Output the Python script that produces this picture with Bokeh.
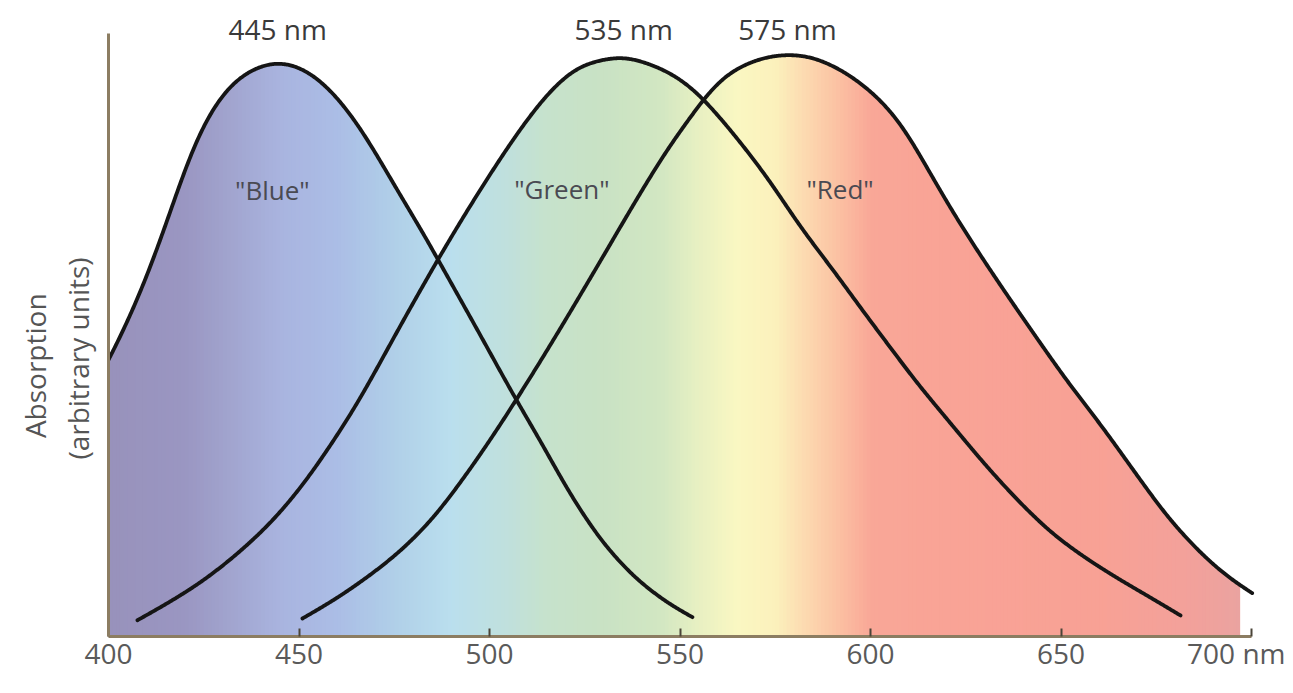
import numpy as np
from bokeh.plotting import figure
from bokeh.models import Range1d, FixedTicker, LinearAxis
from bokeh.core.properties import value
from bokeh.embed import file_html
from bokeh.resources import INLINE

# ---- data (wavelength in nm, absorption in arbitrary units) ----
blue_nm = [400.0, 401.8, 407.6, 411.0, 414.4, 417.1, 420.2, 423.4, 428.6, 432.0, 438.1, 444.4,
           451.2, 457.0, 461.7, 466.9, 472.2, 477.2, 482.7, 486.6, 496.9, 507.3, 513.4, 520.5,
           529.1, 537.8, 546.7, 553.3]
blue_abs = [47.5, 49.7, 57.8, 63.5, 69.4, 75.0, 80.7, 86.6, 92.3, 95.2, 97.9, 99.1,
            97.9, 95.0, 91.6, 86.8, 80.9, 75.2, 69.4, 64.7, 52.7, 40.3, 33.7, 25.1,
            16.5, 10.2, 5.7, 3.3]

green_nm = [407.6, 415.5, 424.1, 432.8, 441.7, 447.8, 453.0, 459.1, 465.4, 470.6, 475.9, 486.6,
            494.2, 502.9, 507.3, 511.5, 516.0, 520.5, 524.7, 535.2, 544.9, 550.9, 555.9, 564.0,
            573.0, 581.6, 590.3, 597.9, 605.8, 612.3, 621.0, 629.7, 638.6, 647.2, 655.9, 664.8,
            673.5, 681.4]
green_abs = [2.8, 5.7, 9.2, 13.6, 18.9, 23.4, 27.8, 33.7, 40.1, 46.3, 52.7, 65.1,
             73.4, 82.4, 86.6, 90.5, 94.0, 96.9, 98.6, 100.0, 97.9, 95.7, 92.8, 86.6,
             79.0, 70.4, 63.0, 56.1, 49.2, 43.5, 36.7, 29.8, 23.4, 17.9, 13.7, 10.0,
             6.7, 3.6]

red_nm = [450.9, 459.1, 468.0, 476.6, 485.3, 494.2, 501.0, 507.3, 513.4, 518.6, 529.1, 537.8,
          546.7, 552.8, 555.9, 559.8, 564.0, 571.1, 578.2, 585.0, 592.9, 600.8, 607.9, 612.3,
          621.0, 629.7, 638.6, 645.4, 651.7, 660.4, 669.0, 677.9, 686.6, 693.7, 700.3]
red_abs = [3.1, 6.2, 10.2, 14.6, 20.3, 28.1, 34.6, 41.0, 47.4, 53.0, 64.6, 74.4,
           84.0, 89.4, 92.4, 95.5, 97.6, 99.6, 100.3, 99.8, 97.4, 93.6, 88.6, 83.6,
           73.6, 64.7, 56.1, 49.7, 43.8, 36.5, 28.6, 20.5, 14.3, 10.2, 7.4]

peak_labels = ["445 nm", "535 nm", "575 nm"]
cone_names = ['"Blue"', '"Green"', '"Red"']
cone_label_nm = [443.0, 519.0, 592.0]
cone_label_abs = [76.8, 77.1, 77.1]
peak_label_abs = [104.5, 104.5, 104.5]

x_ticks = [400, 450, 500, 550, 600, 650, 700]
x_tick_labels = ["400", "450", "500", "550", "600", "650", "700 nm"]
y_title_lines = ["Absorption", "(arbitrary units)"]

# visible spectrum colours behind the curves
spectrum_nm = [400, 420, 430, 445, 460, 475, 490, 505, 515, 530, 545, 555, 565, 575, 583, 592,
               600, 620, 660, 685, 697]
spectrum_hex = ["#9892bb", "#9a96c2", "#a0a2cc", "#a9b4df", "#abbde6", "#b0cfe8", "#badfee",
                "#c0e0dc", "#c6e2cc", "#c9e2c4", "#d2e7c2", "#e8f0c2", "#faf7c2", "#fbf1bc",
                "#fcd9b0", "#fbc0a2", "#f9a797", "#f9a396", "#f8a195", "#f2a19b", "#eaa3a0"]
spectrum_end = 697.0

FONT = "Open Sans"
Y_TOP = 109.46
NB = "\u00a0"


def smooth_curve(nm, ab, step=0.25, sigma=3.5):
    """Dense, lightly smoothed polyline through the read points (drawing only)."""
    nm = np.asarray(nm, float)
    ab = np.asarray(ab, float)
    xs = np.arange(nm[0], nm[-1] + 1e-9, step)
    ys = np.interp(xs, nm, ab)
    k = int(4 * sigma / step)
    s0 = (ab[1] - ab[0]) / (nm[1] - nm[0])
    s1 = (ab[-1] - ab[-2]) / (nm[-1] - nm[-2])
    lp = ys[0] + s0 * step * np.arange(-k, 0)
    rp = ys[-1] + s1 * step * np.arange(1, k + 1)
    full = np.concatenate([lp, ys, rp])
    ker = np.exp(-0.5 * (np.arange(-k, k + 1) * step / sigma) ** 2)
    ker /= ker.sum()
    return xs, np.convolve(full, ker, mode="valid")


p = figure(width=1285, height=685, x_range=Range1d(400, 708.9), y_range=Range1d(0, Y_TOP),
           output_backend="svg", toolbar_location=None,
           min_border_left=108, min_border_right=0, min_border_top=0, min_border_bottom=49)
p.outline_line_color = None
p.xgrid.visible = False
p.ygrid.visible = False
p.background_fill_color = "white"
p.border_fill_color = "white"

# ---- spectrum strips ----
rgb = np.array([[int(h[i:i + 2], 16) for i in (1, 3, 5)] for h in spectrum_hex], dtype=float)
lefts = np.arange(400.0, spectrum_end, 1.0)
centers = lefts + 0.5
cols = []
for c in centers:
    r = np.interp(c, spectrum_nm, rgb[:, 0])
    g = np.interp(c, spectrum_nm, rgb[:, 1])
    b = np.interp(c, spectrum_nm, rgb[:, 2])
    cols.append("#%02x%02x%02x" % (int(round(r)), int(round(g)), int(round(b))))
rights = np.minimum(lefts + 1.4, spectrum_end)
p.quad(left=lefts, right=rights, bottom=0, top=102, fill_color=cols, line_color=None)

# ---- smooth curves ----
curves = [smooth_curve(nm, ab) for nm, ab in
          ((blue_nm, blue_abs), (green_nm, green_abs), (red_nm, red_abs))]

# ---- white mask above the envelope of the three curves ----
gx = np.linspace(400.0, spectrum_end, 1500)
env = np.maximum.reduce([np.interp(gx, cx, cy, left=0, right=0) for cx, cy in curves])
mx = [398.0, 398.0] + list(gx) + [spectrum_end + 1, spectrum_end + 1]
my = [103.0, env[0]] + list(env) + [env[-1], 103.0]
p.patch(mx, my, fill_color="white", line_color=None)

for cx, cy in curves:
    p.line(cx, cy, line_color="#151515", line_width=3.8, line_join="round", line_cap="round")

# ---- peak labels ----
peak_x = [blue_nm[int(np.argmax(blue_abs))], green_nm[int(np.argmax(green_abs))],
          red_nm[int(np.argmax(red_abs))]]
p.text(x=peak_x, y=peak_label_abs, text=peak_labels, text_align="center", text_baseline="middle",
       text_font=value(FONT), text_font_size="28px", text_color="#3a3a3a")

# ---- cone labels ----
p.text(x=cone_label_nm, y=cone_label_abs, text=cone_names, text_align="center",
       text_baseline="middle", text_font=value(FONT), text_font_size="26px",
       text_color="#4a4a52")

# ---- axes ----
ax = p.xaxis[0]
ax.ticker = FixedTicker(ticks=x_ticks)
ax.major_label_overrides = {t: s for t, s in zip(x_ticks, x_tick_labels)}
ax.bounds = (400, 700)
ax.axis_line_color = "#8c7d62"
ax.axis_line_width = 3
ax.major_tick_in = 8
ax.major_tick_out = 0
ax.major_tick_line_color = "#4a4438"
ax.major_tick_line_width = 2
ax.minor_tick_line_color = None
ax.major_label_text_font = FONT
ax.major_label_text_font_size = "28px"
ax.major_label_text_color = "#5a5a5a"
ax.major_label_standoff = -3

ay = p.yaxis[0]
ay.bounds = (0, 103.8)
ay.axis_line_color = "#8c7d62"
ay.axis_line_width = 3
ay.major_tick_line_color = None
ay.minor_tick_line_color = None
ay.major_tick_in = 0
ay.major_tick_out = 0
ay.major_label_standoff = 0
ay.major_label_text_font_size = "0px"
ay.major_label_text_color = None

# invisible helper axis that carries the two-line y title
# (trailing no-break spaces move each line down, as in the original)
y_title = y_title_lines[0] + NB * 13 + "\n" + y_title_lines[1] + NB * 11
p.extra_y_ranges = {"title": Range1d(0, Y_TOP)}
ty = LinearAxis(y_range_name="title", axis_label=y_title)
ty.axis_line_color = None
ty.major_tick_line_color = None
ty.minor_tick_line_color = None
ty.major_tick_in = 0
ty.major_tick_out = 0
ty.major_label_standoff = 0
ty.major_label_text_font_size = "0px"
ty.major_label_text_color = None
ty.axis_label_standoff = 4
ty.axis_label_text_font = FONT
ty.axis_label_text_font_size = "28px"
ty.axis_label_text_font_style = "normal"
ty.axis_label_text_color = "#555555"
ty.axis_label_text_line_height = 1.13
p.add_layout(ty, "left")

open("out.html", "w").write(file_html(p, INLINE))
